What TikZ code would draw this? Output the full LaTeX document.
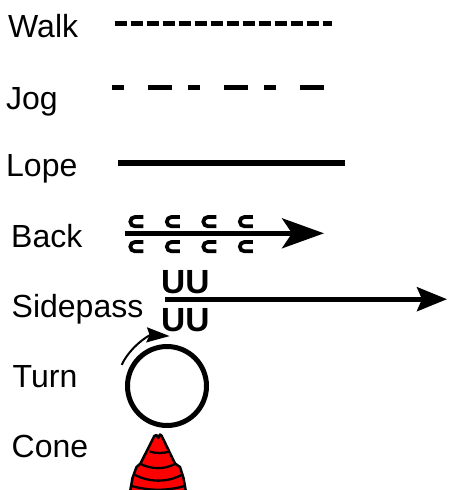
\documentclass[tikz,border=0pt]{standalone}
\usepackage{fontspec}
\setmainfont{Liberation Sans}
\usetikzlibrary{arrows.meta,calc}
\definecolor{conered}{RGB}{255,0,0}
\begin{document}
\begin{tikzpicture}[x=1pt,y=-1pt,
  lbl/.style={anchor=base west, inner sep=0pt, font=\fontsize{32}{32}\selectfont},
  uu/.style={anchor=base west, inner sep=0pt, font=\fontsize{33.5}{33.5}\selectfont\bfseries},
  gait/.style={line width=5pt},
  cshape/.style={line width=3.8pt},
  mainarrow/.style={line width=4.6pt},
  conestripe/.style={line width=2.3pt},
]
\useasboundingbox (0,0) rectangle (448,490);
\clip (0,0) rectangle (448,490);

% labels
\node[lbl] (walk) at (8,37) {Walk};
\node[lbl] (jog) at (6,109) {Jog};
\node[lbl] (lope) at (6,176) {Lope};
\node[lbl] (back) at (11,247) {Back};
\node[lbl] (side) at (11.5,317) {Sidepass};
\node[lbl] (turn) at (12.5,387) {Turn};
\node[lbl] (cone) at (11.5,457) {Cone};

% walk
\coordinate (w1) at (115,23.2);
\coordinate (w2) at (332,23.2);
\draw[gait, dash pattern=on 12pt off 4pt] (w1) -- (w2);

% jog
\coordinate (j1) at (112,87.5);
\coordinate (j2) at (324,87.5);
\draw[gait, dash pattern=on 12pt off 24pt on 24pt off 16pt] (j1) -- (j2);

% lope
\coordinate (l1) at (118,162.8);
\coordinate (l2) at (345,162.8);
\draw[gait, line width=5.5pt] (l1) -- (l2);

% back
\coordinate (b1) at (125,233.3);
\coordinate (b2) at (324,233.3);
\draw[mainarrow, -{Stealth[length=42pt, width=30pt, inset=10pt]}] (b1) -- (b2);
\foreach \cx in {128.3,164.8,201.3,237.8}{
  \draw[cshape] (\cx+15,217) -- (\cx+6.7,217) arc[start angle=-90, end angle=-270, radius=4.65] -- (\cx+15,226.3);
  \draw[cshape] (\cx+15,242) -- (\cx+6.7,242) arc[start angle=-90, end angle=-270, radius=4.65] -- (\cx+15,251.3);
}

% sidepass
\coordinate (s1) at (165,299.2);
\coordinate (s2) at (447,299.2);
\draw[mainarrow, -{Stealth[length=30pt, width=24pt, inset=5pt]}] (s1) -- (s2);
\node[uu] (uutop) at (161,293.3) {UU};
\node[uu] (uubot) at (161,331.7) {UU};

% turn
\coordinate (tc) at (167,386);
\draw[line width=5pt] (tc) circle[radius=39.5];
\draw[line width=2pt, -{Stealth[length=23pt, width=15pt, inset=3pt]}]
  ($(tc)+(205:50)$) arc[start angle=205, end angle=273, radius=50];

% cone
\draw[line width=2.5pt, fill=conered, line join=round]
  (154.3,436) -- (156.5,435) -- (158.3,438) -- (160,434.5) -- (161.5,435.5)
  -- (175,463.5) -- (180,467) -- (183.5,478) -- (186,492) -- (130,492)
  -- (132.5,478) -- (136.5,467) -- (140.5,463.5) -- cycle;
\draw[conestripe] (149.5,451.5) .. controls (155,453.5) and (164,453.5) .. (169.5,451.5);
\draw[conestripe] (140.5,464) .. controls (152,469.5) and (164,469.5) .. (175,464);
\draw[conestripe] (135,475) .. controls (150,482.5) and (167,482.5) .. (181.5,475);
\draw[conestripe] (131.5,486) .. controls (150,491) and (167,491) .. (184.5,486);
\end{tikzpicture}
\end{document}
